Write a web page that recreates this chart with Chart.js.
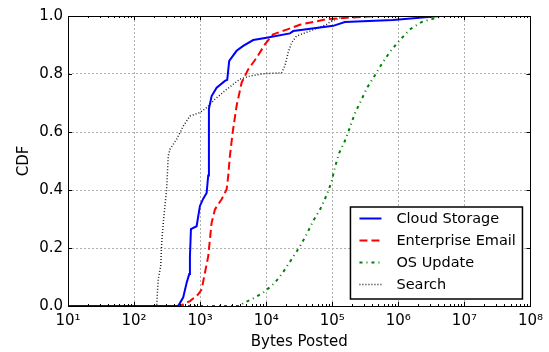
<!DOCTYPE html>
<html>
<head>
<meta charset="utf-8">
<script src="https://cdn.jsdelivr.net/npm/chart.js@4"></script>
<style>
  body { margin: 0; background: #fff; }
</style>
</head>
<body>
<canvas id="cdf" width="549" height="352"></canvas>
<script>
// Data (bytes posted -> CDF)
const cloudBytes = [10, 461, 494, 555, 625, 684, 701, 726, 885, 993, 1114, 1254, 1326, 1359, 1493, 1778, 2373, 2570, 2756, 3565, 4487, 6358, 10140, 22860, 25660, 103300, 155300, 833000, 4250000];
const cloudCdf = [0, 0, 0.01, 0.03, 0.08, 0.11, 0.17, 0.265, 0.275, 0.345, 0.37, 0.39, 0.45, 0.68, 0.724, 0.753, 0.776, 0.78, 0.845, 0.88, 0.897, 0.917, 0.925, 0.94, 0.948, 0.966, 0.979, 0.986, 1.0];

const emailBytes = [10, 494, 701, 935, 1054, 1183, 1327, 1407, 1493, 1675, 2115, 2517, 2661, 2823, 3104, 3565, 4245, 5345, 7157, 9553, 12760, 20370, 32380, 82030, 164500, 525000];
const emailCdf = [0, 0, 0.017, 0.04, 0.057, 0.115, 0.172, 0.23, 0.287, 0.333, 0.368, 0.402, 0.448, 0.517, 0.598, 0.69, 0.77, 0.816, 0.856, 0.902, 0.937, 0.953, 0.97, 0.989, 0.994, 1.0];

const osBytes = [10, 4000, 4487, 6012, 9014, 13550, 18080, 24220, 32380, 40840, 51400, 66530, 82030, 97530, 109400, 127100, 155300, 184600, 219700, 270800, 337500, 440800, 576400, 762100, 1054000, 1494000, 2244000, 3785000, 5050000];
const osCdf = [0, 0, 0.01, 0.023, 0.046, 0.08, 0.117, 0.161, 0.205, 0.247, 0.293, 0.336, 0.382, 0.428, 0.477, 0.527, 0.569, 0.615, 0.664, 0.707, 0.753, 0.795, 0.839, 0.879, 0.917, 0.954, 0.979, 0.994, 1.0];

const searchBytes = [10, 220, 224, 232, 253, 262, 277, 293, 311, 329, 349, 441, 555, 701, 993, 1254, 1675, 2517, 4000, 5665, 9014, 17100, 19190, 21530, 24220, 28840, 45810, 82030, 97530, 155300];
const searchCdf = [0, 0, 0.034, 0.092, 0.138, 0.218, 0.287, 0.345, 0.402, 0.517, 0.54, 0.575, 0.62, 0.655, 0.667, 0.684, 0.713, 0.747, 0.782, 0.793, 0.801, 0.804, 0.828, 0.874, 0.908, 0.931, 0.948, 0.971, 0.983, 1.0];

const seriesLabels = ['Cloud Storage', 'Enterprise Email', 'OS Update', 'Search'];
const xExponents = [1, 2, 3, 4, 5, 6, 7, 8];
const yTicks = [0, 0.2, 0.4, 0.6, 0.8, 1.0];

const toPoints = (xs, ys) => xs.map((x, i) => ({ x: x, y: ys[i] }));

// superscript digits for 10^n labels
const sup = { '0': '\u2070', '1': '\u00b9', '2': '\u00b2', '3': '\u00b3', '4': '\u2074', '5': '\u2075', '6': '\u2076', '7': '\u2077', '8': '\u2078', '9': '\u2079' };

// major + minor ticks for the log axis
const xTickValues = [];
xExponents.forEach((e, i) => {
    xTickValues.push({ value: Math.pow(10, e), major: true });
    if (i < xExponents.length - 1) {
        for (let m = 2; m <= 9; m++) xTickValues.push({ value: m * Math.pow(10, e), major: false });
    }
});

Chart.defaults.font.family = 'DejaVu Sans';
Chart.defaults.font.size = 15;
Chart.defaults.color = '#000';

// Frame + inward tick marks
const framePlugin = {
    id: 'frame',
    afterDraw(chart) {
        const ctx = chart.ctx;
        const a = chart.chartArea;
        const xs = chart.scales.x, ys = chart.scales.y;
        ctx.save();
        ctx.strokeStyle = '#000';
        ctx.lineWidth = 1;
        ctx.beginPath();
        xs.ticks.forEach(t => {
            const px = Math.round(xs.getPixelForValue(t.value)) + 0.5;
            const len = t.major ? 4 : 2;
            ctx.moveTo(px, a.bottom); ctx.lineTo(px, a.bottom - len);
            ctx.moveTo(px, a.top); ctx.lineTo(px, a.top + len);
        });
        ys.ticks.forEach(t => {
            const py = Math.round(ys.getPixelForValue(t.value)) + 0.5;
            ctx.moveTo(a.left, py); ctx.lineTo(a.left + 4, py);
            ctx.moveTo(a.right, py); ctx.lineTo(a.right - 4, py);
        });
        ctx.stroke();
        ctx.strokeRect(Math.round(a.left) + 0.5, Math.round(a.top) + 0.5, Math.round(a.right - a.left), Math.round(a.bottom - a.top));
        ctx.restore();
    }
};

// Legend box inside the plot, lower right
const legendPlugin = {
    id: 'boxLegend',
    afterDraw(chart) {
        const ctx = chart.ctx;
        const a = chart.chartArea;
        const w = 172, h = 92;
        const x0 = a.right - 8 - w, y0 = a.bottom - 7 - h;
        ctx.save();
        ctx.fillStyle = '#fff';
        ctx.fillRect(x0, y0, w, h);
        ctx.strokeStyle = '#000';
        ctx.lineWidth = 1.5;
        ctx.strokeRect(x0, y0, w, h);
        ctx.font = '14.5px DejaVu Sans';
        ctx.textBaseline = 'middle';
        chart.data.datasets.forEach((ds, i) => {
            const y = y0 + 11.5 + i * 22;
            ctx.strokeStyle = ds.borderColor;
            ctx.lineWidth = ds.borderWidth;
            ctx.setLineDash(ds.borderDash || []);
            ctx.beginPath();
            ctx.moveTo(x0 + 9, y);
            ctx.lineTo(x0 + 31, y);
            ctx.stroke();
            ctx.setLineDash([]);
            ctx.fillStyle = '#000';
            ctx.fillText(ds.label, x0 + 46, y + 1);
        });
        ctx.restore();
    }
};

new Chart(document.getElementById('cdf'), {
    type: 'line',
    data: {
        datasets: [{
            label: seriesLabels[0],
            data: toPoints(cloudBytes, cloudCdf),
            borderColor: '#0000ff',
            borderWidth: 2,
            borderDash: []
        }, {
            label: seriesLabels[1],
            data: toPoints(emailBytes, emailCdf),
            borderColor: '#ff0000',
            borderWidth: 2,
            borderDash: [8, 4]
        }, {
            label: seriesLabels[2],
            data: toPoints(osBytes, osCdf),
            borderColor: '#008000',
            borderWidth: 2,
            borderDash: [3, 4, 1, 4]
        }, {
            label: seriesLabels[3],
            data: toPoints(searchBytes, searchCdf),
            borderColor: '#222',
            borderWidth: 1.5,
            borderDash: [1, 2]
        }]
    },
    options: {
        responsive: false,
        animation: false,
        devicePixelRatio: 1,
        layout: { padding: { left: 0, right: 18, top: 16, bottom: 0 } },
        elements: { point: { radius: 0 }, line: { tension: 0, fill: false } },
        plugins: { legend: { display: false }, tooltip: { enabled: false } },
        scales: {
            x: {
                type: 'logarithmic',
                min: 10,
                max: 1e8,
                afterBuildTicks: scale => { scale.ticks = xTickValues.map(t => ({ value: t.value, major: t.major })); },
                afterFit: scale => { scale.height = 46; },
                ticks: {
                    autoSkip: false,
                    maxRotation: 0,
                    padding: 6,
                    callback: function (v) {
                        const e = Math.round(Math.log10(v));
                        if (Math.abs(Math.pow(10, e) - v) > 1e-6 * v) return '';
                        return '10' + String(e).split('').map(c => sup[c]).join('');
                    }
                },
                grid: {
                    drawTicks: false,
                    color: c => (c.tick && c.tick.major && c.tick.value > 10 && c.tick.value < 1e8) ? '#b0b0b0' : 'rgba(0,0,0,0)'
                },
                border: { display: false, dash: [2, 2] },
                title: { display: true, text: 'Bytes Posted', padding: { top: 0, bottom: 1 } }
            },
            y: {
                min: 0,
                max: 1,
                afterBuildTicks: scale => { scale.ticks = yTicks.map(v => ({ value: v })); },
                afterFit: scale => { scale.width = 68; },
                ticks: {
                    padding: 5,
                    callback: v => v.toFixed(1)
                },
                grid: {
                    drawTicks: false,
                    color: c => (c.tick && c.tick.value > 0 && c.tick.value < 1) ? '#b0b0b0' : 'rgba(0,0,0,0)'
                },
                border: { display: false, dash: [2, 2] },
                title: { display: true, text: 'CDF', padding: { top: 15, bottom: 0 } }
            }
        }
    },
    plugins: [framePlugin, legendPlugin]
});
</script>
</body>
</html>
